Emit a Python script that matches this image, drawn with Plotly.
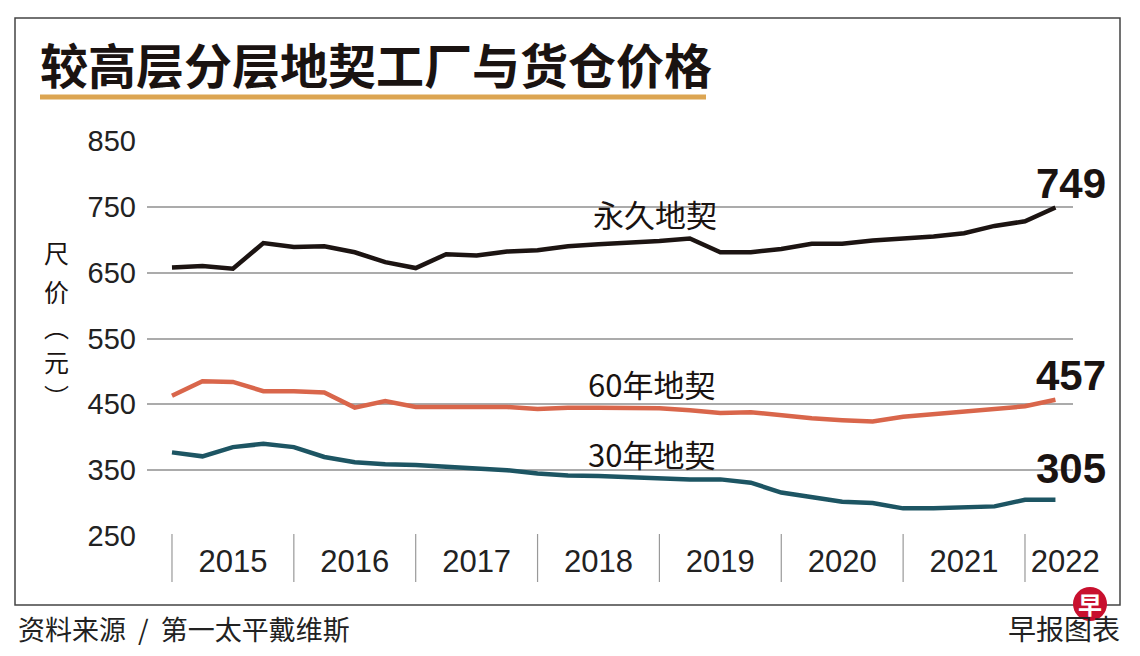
import pandas as pd
import plotly.graph_objects as go

# 季度（2015Q1 - 2022Q2）
quarters = pd.period_range('2015Q1', '2022Q2', freq='Q')
x_vals = [p.year + (p.quarter - 1) / 4 for p in quarters]

# 每平方英尺价格（元）
freehold = [658, 660, 656, 695, 689, 690, 681, 666, 657, 678, 676, 682, 684, 690,
            693, 695, 698, 702, 681, 681, 686, 694, 694, 699, 702, 705, 710, 721, 728, 749]
lease60 = [463, 485, 484, 470, 470, 468, 445, 455, 446, 446, 446, 446, 443, 445,
           445, 445, 444, 441, 437, 438, 433, 429, 426, 424, 431, 435, 439, 443, 447, 457]
lease30 = [377, 371, 385, 390, 385, 370, 362, 359, 358, 355, 353, 350, 345, 342,
           341, 339, 337, 336, 336, 331, 316, 309, 302, 300, 292, 292, 293, 295, 305, 305]

series_names = ['永久地契', '60年地契', '30年地契']
series_values = [freehold, lease60, lease30]
series_colors = ['#1c1412', '#d9664b', '#1d5563']

years = ['2015', '2016', '2017', '2018', '2019', '2020', '2021', '2022']
year_label_pos = [2015.5, 2016.5, 2017.5, 2018.5, 2019.5, 2020.5, 2021.5, 2022.33]
y_ticks = [250, 350, 450, 550, 650, 750, 850]

# 页面 body 有 8px 边距，图的尺寸相应缩小
OFF = 8
W, H = 1140 - 2 * OFF, 656 - 2 * OFF

# 参考图像素 -> paper 坐标
L, R, T, B = 147, 1073, 141, 536
def px(x):
    return (x - L) / (R - L)
def py(y):
    return (B - y) / (B - T)

cjk = 'Noto Sans CJK SC'
num = 'Liberation Sans, Arial, sans-serif'
ink = '#1a1311'

fig = go.Figure()
for name, vals, color in zip(series_names, series_values, series_colors):
    fig.add_trace(go.Scatter(x=x_vals, y=vals, mode='lines', name=name,
                             line=dict(color=color, width=4.5), showlegend=False))

shapes = []
# 外框
shapes.append(dict(type='rect', xref='paper', yref='paper', x0=px(15), x1=px(1120),
                   y0=py(605), y1=py(18), line=dict(color='#444', width=1.5), layer='below'))
# 标题下划线
shapes.append(dict(type='line', xref='paper', yref='paper', x0=px(40), x1=px(706),
                   y0=py(97), y1=py(97), line=dict(color='#dca552', width=5)))
# 年份分隔线
for yr in range(2015, 2023):
    shapes.append(dict(type='line', xref='x', yref='paper', x0=yr, x1=yr,
                       y0=py(534), y1=py(582), line=dict(color='#999', width=1.2)))
# 早报 logo
shapes.append(dict(type='circle', xref='paper', yref='paper',
                   x0=px(1073), x1=px(1107), y0=py(621), y1=py(587),
                   fillcolor='#c8102e', line=dict(width=0), layer='above'))

annotations = []
annotations.append(dict(text='<b>较高层分层地契工厂与货仓价格</b>', xref='paper', yref='paper',
                        x=px(38), y=py(63), xanchor='left', yanchor='middle', showarrow=False,
                        font=dict(family=cjk, size=48, color=ink)))
# 系列名称
label_pos = [(655, 213), (651, 383), (651, 453)]
for name, (lx, ly) in zip(series_names, label_pos):
    annotations.append(dict(text=name, xref='paper', yref='paper', x=px(lx), y=py(ly),
                            xanchor='center', yanchor='middle', showarrow=False,
                            font=dict(family=cjk, size=31, color=ink)))
# 末端数值
end_shift = [24, 24, 31]
for vals, sh in zip(series_values, end_shift):
    annotations.append(dict(text='<b>%d</b>' % vals[-1], x=x_vals[-1], y=vals[-1],
                            xanchor='center', yanchor='middle', xshift=16, yshift=sh,
                            showarrow=False, font=dict(family=num, size=42, color=ink)))
# 纵轴标题（竖排）
for ch, cy in zip(['尺', '价', '︵', '元', '︶'], [252, 291, 326, 361, 396]):
    annotations.append(dict(text=ch, xref='paper', yref='paper', x=px(56), y=py(cy),
                            xanchor='center', yanchor='middle', showarrow=False,
                            font=dict(family=cjk, size=25, color=ink)))
# 来源
annotations.append(dict(text='资料来源&nbsp;&nbsp;/&nbsp;&nbsp;第一太平戴维斯', xref='paper', yref='paper',
                        x=px(16), y=py(628), xanchor='left', yanchor='middle', showarrow=False,
                        font=dict(family=cjk, size=27, color='#222')))
annotations.append(dict(text='早报图表', xref='paper', yref='paper',
                        x=px(1122), y=py(628), xanchor='right', yanchor='middle', showarrow=False,
                        font=dict(family=cjk, size=28, color='#222')))
annotations.append(dict(text='<b>早</b>', xref='paper', yref='paper',
                        x=px(1090), y=py(603), xanchor='center', yanchor='middle', showarrow=False,
                        font=dict(family=cjk, size=24, color='white')))

fig.update_layout(
    width=W, height=H,
    margin=dict(l=L - OFF, r=W + OFF - R, t=T - OFF, b=H + OFF - B),
    plot_bgcolor='white', paper_bgcolor='white',
    shapes=shapes, annotations=annotations,
    xaxis=dict(range=[2014.795, 2022.394], showgrid=False, zeroline=False, showline=False,
               tickmode='array', tickvals=year_label_pos, ticktext=years, ticks='',
               ticklabelstandoff=4, tickfont=dict(family=num, size=31, color='#222')),
    yaxis=dict(range=[250, 850], tickmode='array', tickvals=y_ticks, showgrid=True,
               gridcolor='#ababab', gridwidth=1.5, zeroline=False, showline=False, ticks='',
               ticklabelstandoff=10, tickfont=dict(family=num, size=29, color='#222')),
)

fig.write_html("out.html")
